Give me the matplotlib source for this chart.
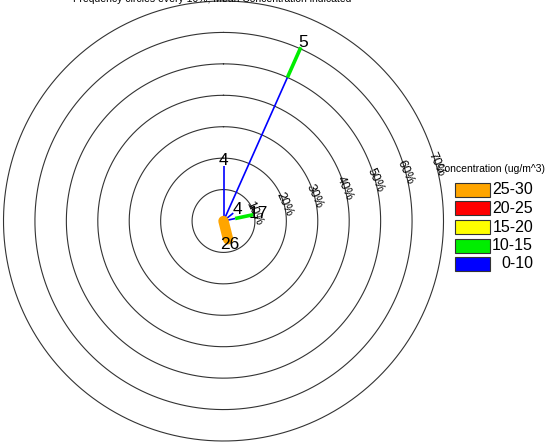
import numpy as np
import matplotlib
matplotlib.use("Agg")
import matplotlib.pyplot as plt
from matplotlib.patches import Rectangle

plt.rcParams['font.family'] = ['Liberation Sans', 'DejaVu Sans']

# --- DATA ---
directions = [0, 24, 51, 78, 166]          # degrees, clockwise from north
counts = ['4', '5', '4', '17', '26']        # number shown at petal tip
bins = ['0-10', '10-15', '15-20', '20-25', '25-30']
bin_colors = ['blue', '#00ee00', 'yellow', 'red', 'orange']
# frequency (%) in each concentration bin, per direction
freq_0_10 = [17.5, 50.0, 4.0, 3.8, 0.0]
freq_10_15 = [0.0, 10.5, 0.0, 5.9, 0.0]
freq_15_20 = [0.0, 0.0, 0.0, 0.0, 0.0]
freq_20_25 = [0.0, 0.0, 0.0, 0.0, 0.0]
freq_25_30 = [0.0, 0.0, 0.0, 0.0, 6.0]
rings = [10, 20, 30, 40, 50, 60, 70]

W, H = 552, 446
fig = plt.figure(figsize=(W / 100, H / 100), dpi=100)

# polar axes: centre at (223.5, 221) px, outer ring radius 220 px
cx, cy, R = 223.5, 221, 220
ax = fig.add_axes([(cx - R) / W, (H - cy - R) / H, 2 * R / W, 2 * R / H],
                  projection='polar')
ax.set_theta_zero_location('N')
ax.set_theta_direction(-1)
ax.set_ylim(0, 70)
ax.grid(False)
ax.set_xticks([])
ax.set_yticks([])
ax.spines['polar'].set_visible(False)
ax.patch.set_alpha(0)

# frequency circles
th = np.linspace(0, 2 * np.pi, 400)
for r in rings:
    ax.plot(th, np.full_like(th, r), color='#333333', lw=0.8, clip_on=False)
    ang = np.deg2rad(75)
    ax.text(ang, r, f'{r}%', rotation=-66, ha='center', va='center',
            fontsize=9, clip_on=False)

# petals, stacked by concentration bin
widths = [1.2, 2.6, 4.0, 5.5, 7.5]
all_bins = [freq_0_10, freq_10_15, freq_15_20, freq_20_25, freq_25_30]
for i, d in enumerate(directions):
    t = np.deg2rad(d)
    start = 0.0
    for b, vals in enumerate(all_bins):
        v = vals[i]
        if v <= 0:
            continue
        ax.plot([t, t], [start, start + v], color=bin_colors[b], lw=widths[b],
                solid_capstyle='round' if b == 4 else 'butt', zorder=3)
        start += v
    ax.text(t, start + 1.6, counts[i], ha='center', va='center',
            fontsize=12.5, zorder=4)

# title (cut off at top of image, as in the original)
fig.text(212 / W, 1 + 1 / H, 'Frequency circles every 10%; Mean Concentration indicated',
         ha='center', va='center', fontsize=7.5)

# legend
lax = fig.add_axes([436 / W, (H - 275) / H, (W - 436) / W, 115 / H])
lax.set_xlim(436, W)
lax.set_ylim(275, 160)
lax.axis('off')
lax.text(437, 169, 'Concentration (ug/m^3)', ha='left', va='center', fontsize=7.5)
for k, b in enumerate(reversed(bins)):
    col = bin_colors[len(bins) - 1 - k]
    top = 183 + k * 18.5
    lax.add_patch(Rectangle((455, top), 35, 14, facecolor=col,
                            edgecolor='#333333', lw=0.8))
    lax.text(533, top + 7, b, ha='right', va='center', fontsize=11.5)

fig.savefig('out.png', dpi=100)
